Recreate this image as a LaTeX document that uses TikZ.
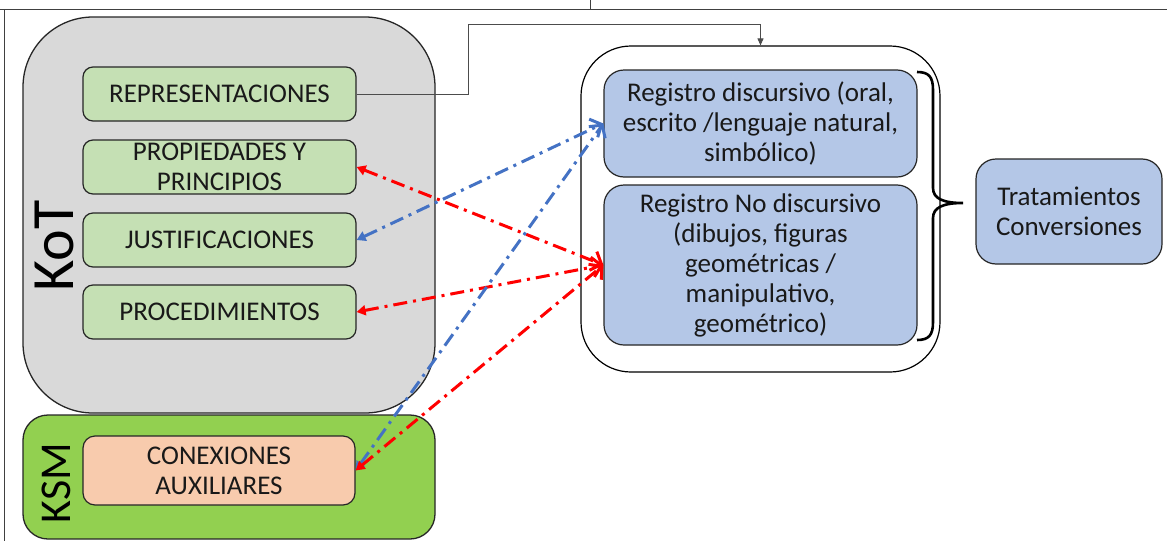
\documentclass[tikz,border=0pt]{standalone}
\usepackage{fontspec}
\setmainfont{Carlito}
\usetikzlibrary{arrows.meta}
\definecolor{kotgray}{HTML}{D9D9D9}
\definecolor{boxgreen}{HTML}{C5E0B4}
\definecolor{ksmgreen}{HTML}{92D050}
\definecolor{peach}{HTML}{F8CBAD}
\definecolor{regblue}{HTML}{B4C7E7}
\definecolor{arrblue}{HTML}{4472C4}
\definecolor{arrred}{HTML}{FF0000}
\definecolor{edge}{HTML}{262626}
\tikzset{
  txt/.style={font=\fontsize{27}{30}\selectfont, text=black!90, align=center, inner sep=0pt},
  bigbox/.style={draw=edge, line width=1.3pt, rectangle},
  kotbox/.style={bigbox, fill=kotgray, rounded corners=70pt, minimum width=412pt, minimum height=396pt},
  ksmbox/.style={bigbox, fill=ksmgreen, rounded corners=25pt, minimum width=412pt, minimum height=124pt},
  gbox/.style={txt, draw=edge, line width=1.2pt, fill=boxgreen, rounded corners=10pt, minimum width=273pt, minimum height=54pt},
  pbox/.style={txt, draw=edge, line width=1.2pt, fill=peach, rounded corners=12pt, minimum width=272pt, minimum height=69pt},
  rbox/.style={txt, draw=edge, line width=1.2pt, fill=regblue, rounded corners=20pt},
  contbox/.style={draw=black, line width=1.2pt, fill=white, rounded corners=50pt, minimum width=359pt, minimum height=326pt},
  biglabel/.style={inner sep=0pt, rotate=90, text=black},
  darr/.style={line width=3pt, dash pattern=on 14pt off 6pt on 3pt off 6pt,
    {Triangle[length=9pt,width=10pt]}-{Straight Barb[length=9pt,width=20pt]}},
  conn/.style={draw=black!70, line width=0.9pt, -{Triangle[length=7pt,width=6pt]}},
  frameline/.style={draw=black!75, line width=1pt},
  bracestyle/.style={draw=black, line width=2.6pt}
}
\begin{document}
\begin{tikzpicture}[x=1pt,y=-1pt]
\useasboundingbox (0,0) rectangle (1167,541);
\fill[white] (0,0) rectangle (1167,541);
% frame
\draw[frameline] (0,9) -- (1167,9);
\draw[frameline] (4.5,9) -- (4.5,541);
\draw[frameline] (590,0) -- (590,9);

% left blocks
\node[kotbox] (kot) at (229,215) {};
\node[ksmbox] (ksm) at (229,477) {};
\node[biglabel, font=\fontsize{60}{60}\selectfont] (kotlab) at (54,246) {KoT};
\node[biglabel, font=\fontsize{44}{44}\selectfont] (ksmlab) at (56,483) {KSM};

\node[gbox] (rep) at (219.5,94) {REPRESENTACIONES};
\node[gbox] (prop) at (219.5,167) {PROPIEDADES Y\\PRINCIPIOS};
\node[gbox] (just) at (219.5,240) {JUSTIFICACIONES};
\node[gbox] (proc) at (219.5,312) {PROCEDIMIENTOS};
\node[pbox] (conex) at (219,470.5) {CONEXIONES\\AUXILIARES};

% right blocks
\node[contbox] (cont) at (760.5,209) {};
\node[rbox, minimum width=313pt, minimum height=107pt] (rd) at (760.5,123.5)
  {Registro discursivo (oral,\\escrito /lenguaje natural,\\simbólico)};
\node[rbox, minimum width=313pt, minimum height=160pt] (rnd) at (760.5,265)
  {Registro No discursivo\\(dibujos, figuras\\geométricas /\\manipulativo,\\geométrico)};
\node[rbox, minimum width=186pt, minimum height=105pt] (trat) at (1069,211.5)
  {Tratamientos\\Conversiones};

% brace
\draw[bracestyle] (917,72) .. controls (929,72) and (933,77) .. (933,90)
  -- (933,188) .. controls (933,199) and (944,203) .. (963,203)
  .. controls (944,203) and (933,207) .. (933,218)
  -- (933,322) .. controls (933,335) and (929,340) .. (917,340);

% connector from REPRESENTACIONES
\coordinate (bend) at (468,24);
\draw[conn] (rep.east) -| (bend) -| (cont.north);

% dash-dot arrows
\draw[darr, arrred] (prop.east) -- (rnd.west);
\draw[darr, arrblue] (just.east) -- (rd.west);
\draw[darr, arrred] (proc.east) -- (rnd.west);
\draw[darr, arrblue] (conex.east) -- (rd.west);
\draw[darr, arrred] (conex.east) -- (rnd.west);
\end{tikzpicture}
\end{document}
